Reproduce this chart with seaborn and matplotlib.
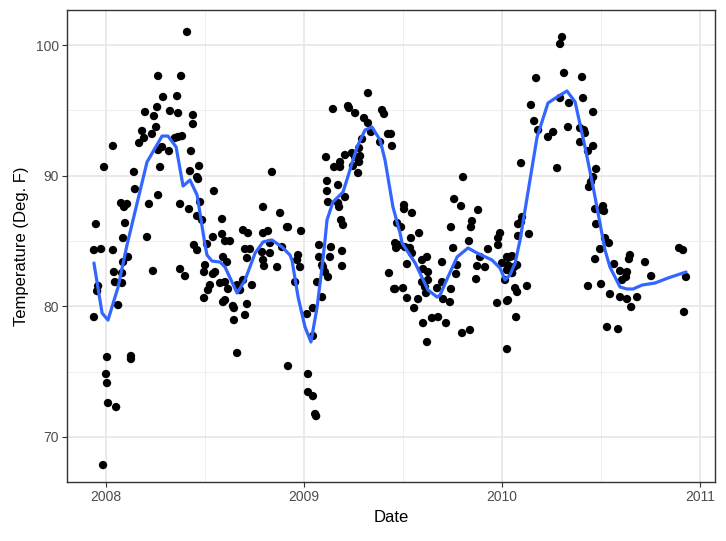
import matplotlib
matplotlib.use("Agg")
import matplotlib.pyplot as plt
from matplotlib.ticker import FixedLocator
import seaborn as sns
import pandas as pd

# observed daily temperatures (decimal year, deg F)
obs_date = [
    2008.263, 2008.288, 2008.359, 2008.197, 2008.258, 2008.242, 2008.323, 2008.364, 2008.253, 2008.182,
    2008.232, 2008.192, 2008.167, 2008.348, 2008.364, 2008.035, 2008.283, 2008.263, 2008.318, 2007.990,
    2008.273, 2008.141, 2008.146, 2008.263, 2008.076, 2008.106, 2008.091, 2008.217, 2008.374, 2008.096,
    2007.949, 2008.207, 2008.086, 2007.939, 2007.975, 2008.035, 2008.111, 2008.086, 2008.237, 2008.374,
    2008.040, 2008.081, 2008.045, 2008.081, 2007.960, 2007.955, 2008.061, 2007.939, 2008.005, 2008.126,
    2008.126, 2008.000, 2008.005, 2008.010, 2008.051, 2007.985,
    2008.409, 2008.379, 2008.439, 2008.439, 2008.384, 2008.429, 2008.470, 2008.424, 2008.460, 2008.465,
    2008.838, 2008.545, 2008.419, 2008.475, 2008.460, 2008.485, 2008.793, 2008.879, 2008.914, 2008.586,
    2008.586, 2008.540, 2008.601, 2008.626, 2008.692, 2008.717, 2008.793, 2008.818, 2008.444, 2008.510,
    2008.702, 2008.727, 2008.828, 2008.889, 2008.460, 2008.788, 2008.828, 2008.399, 2008.500, 2008.495,
    2008.591, 2008.611, 2008.712, 2008.793, 2008.798, 2008.864, 2008.551, 2008.540, 2008.525, 2008.515,
    2008.576, 2008.601, 2008.616, 2008.662, 2008.677, 2008.692, 2008.737, 2008.495, 2008.591, 2008.601,
    2008.641, 2008.646, 2008.712, 2008.702, 2008.646, 2008.662, 2008.919,
    2009.323, 2009.146, 2009.222, 2009.227, 2009.258, 2009.394, 2009.404, 2009.303, 2009.323, 2009.338,
    2009.424, 2009.439, 2009.293, 2009.278, 2009.384, 2009.444, 2009.207, 2009.242, 2009.111, 2009.182,
    2009.258, 2009.283, 2009.278, 2009.152, 2009.182, 2009.247, 2009.273, 2009.116, 2009.172, 2009.116,
    2009.207, 2009.121, 2009.172, 2009.177, 2009.187, 2009.197, 2008.919, 2008.985, 2009.470, 2009.076,
    2009.136, 2009.192, 2009.460, 2009.465, 2008.970, 2008.965, 2008.980, 2009.076, 2009.131, 2009.091,
    2009.096, 2009.106, 2009.192, 2009.121, 2008.955, 2009.066, 2009.091, 2009.045, 2009.015, 2009.045,
    2009.020, 2009.020, 2009.045, 2009.056, 2009.061, 2009.429, 2009.455,
    2009.803, 2009.758, 2009.793, 2009.879, 2009.505, 2009.505, 2009.545, 2009.848, 2009.843, 2009.742,
    2009.490, 2009.581, 2009.540, 2009.990, 2009.980, 2009.980, 2009.833, 2009.753, 2009.929, 2009.485,
    2009.510, 2009.535, 2009.545, 2009.596, 2009.621, 2009.697, 2009.889, 2009.520, 2009.601, 2009.626,
    2009.773, 2009.874, 2009.914, 2010.000, 2010.025, 2010.030, 2009.768, 2009.596, 2009.626, 2009.611,
    2009.869, 2009.697, 2009.672, 2009.742, 2009.460, 2009.500, 2009.520, 2009.576, 2009.616, 2009.702,
    2009.737, 2009.975, 2010.025, 2009.556, 2009.601, 2009.646, 2009.677, 2009.717, 2009.621, 2009.798,
    2009.838, 2010.025,
    2010.303, 2010.293, 2010.172, 2010.313, 2010.404, 2010.146, 2010.293, 2010.338, 2010.409, 2010.460,
    2010.162, 2010.182, 2010.232, 2010.258, 2010.333, 2010.394, 2010.414, 2010.419, 2010.394, 2010.460,
    2010.434, 2010.096, 2010.278, 2010.475, 2010.460, 2010.449, 2010.439, 2010.510, 2010.515, 2010.505,
    2010.470, 2010.475, 2010.101, 2010.081, 2010.096, 2010.136, 2010.081, 2010.520, 2010.540, 2010.495,
    2010.040, 2010.051, 2010.025, 2010.040, 2010.061, 2010.076, 2010.051, 2010.015, 2010.066, 2010.076,
    2010.126, 2010.030, 2010.071, 2010.470, 2010.566, 2010.596, 2010.434, 2010.500, 2010.545, 2010.596,
    2010.530, 2010.586, 2010.646, 2010.641, 2010.722, 2010.894, 2010.914, 2010.631, 2010.626, 2010.606,
    2010.753, 2010.929, 2010.631, 2010.652, 2010.682, 2010.919,
]
obs_temp = [
    97.63, 96.02, 96.09, 94.87, 95.25, 94.56, 94.95, 94.79, 93.72, 93.42,
    93.19, 92.88, 92.50, 92.88, 92.96, 92.27, 92.19, 91.96, 91.88, 90.66,
    90.66, 90.28, 88.97, 88.51, 87.90, 87.83, 87.60, 87.83, 87.83, 86.37,
    86.29, 85.30, 85.22, 84.30, 84.38, 84.30, 83.77, 83.38, 82.70, 82.85,
    82.62, 82.54, 81.85, 81.78, 81.55, 81.16, 80.09, 79.17, 76.11, 76.19,
    75.96, 74.81, 74.12, 72.59, 72.28, 67.84,
    101.00, 97.63, 94.64, 93.95, 93.03, 91.88, 90.74, 90.35, 89.89, 89.74,
    90.28, 88.82, 87.44, 87.98, 86.91, 86.60, 87.60, 87.14, 86.06, 86.68,
    85.53, 85.30, 84.99, 84.99, 85.83, 85.60, 85.60, 85.76, 84.69, 84.76,
    84.38, 84.38, 84.84, 84.53, 84.30, 84.15, 84.07, 82.31, 83.15, 82.62,
    83.77, 83.38, 83.69, 83.54, 83.08, 83.00, 82.62, 82.47, 81.62, 81.24,
    81.78, 81.85, 81.32, 81.62, 81.24, 82.01, 81.62, 80.63, 80.32, 80.47,
    80.02, 79.86, 80.17, 79.33, 78.94, 76.42, 75.42,
    96.32, 95.10, 95.33, 95.18, 94.79, 95.02, 94.72, 94.41, 94.03, 93.34,
    93.19, 93.19, 92.80, 92.11, 92.57, 92.27, 91.58, 91.73, 91.42, 91.04,
    91.42, 91.50, 91.04, 90.66, 90.66, 90.74, 90.20, 89.59, 89.28, 88.82,
    88.36, 87.98, 87.90, 87.60, 86.60, 86.22, 86.06, 85.76, 86.37, 84.69,
    84.53, 84.23, 84.84, 84.46, 83.92, 83.54, 83.00, 83.77, 83.77, 83.15,
    83.00, 82.62, 83.08, 82.24, 81.85, 81.85, 80.70, 79.86, 79.40, 77.72,
    74.81, 73.43, 73.12, 71.75, 71.59, 82.54, 81.32,
    89.89, 88.21, 87.67, 87.37, 87.75, 87.44, 87.14, 86.52, 86.06, 86.06,
    86.06, 85.60, 85.22, 85.60, 85.22, 84.69, 84.99, 84.46, 84.38, 84.69,
    84.53, 84.46, 84.07, 83.54, 83.77, 83.38, 83.77, 83.23, 82.85, 82.62,
    83.15, 83.08, 83.00, 83.31, 83.77, 83.15, 82.47, 81.85, 82.01, 81.47,
    82.08, 81.85, 81.39, 81.32, 81.32, 81.39, 80.63, 80.55, 81.01, 80.55,
    80.32, 80.25, 80.40, 79.86, 78.71, 79.10, 79.17, 78.71, 77.26, 77.95,
    78.18, 76.72,
    100.61, 100.08, 97.47, 97.86, 97.55, 95.41, 95.94, 95.56, 95.94, 94.87,
    94.18, 93.49, 92.96, 93.34, 93.72, 93.64, 93.49, 93.26, 92.57, 92.27,
    91.88, 90.96, 90.58, 90.51, 89.89, 89.51, 89.13, 87.67, 87.29, 87.37,
    87.44, 86.29, 86.83, 86.29, 86.45, 85.53, 85.38, 85.22, 84.84, 84.38,
    83.77, 83.84, 82.77, 83.00, 83.00, 83.15, 82.54, 82.01, 81.39, 81.09,
    81.55, 80.47, 79.17, 83.61, 83.23, 82.70, 81.55, 81.70, 80.93, 80.70,
    78.41, 78.25, 83.92, 83.61, 83.38, 84.46, 84.30, 82.62, 82.24, 82.01,
    82.31, 82.24, 80.55, 79.94, 80.70, 79.56,
]

# smoothed trend (loess)
smooth_date = [
    2007.939, 2007.980, 2008.010, 2008.061, 2008.106, 2008.207, 2008.283, 2008.313, 2008.354, 2008.389,
    2008.424, 2008.460, 2008.500, 2008.510, 2008.535, 2008.576, 2008.601, 2008.662, 2008.702, 2008.753,
    2008.793, 2008.838, 2008.889, 2008.929, 2008.939, 2008.970, 2009.005, 2009.035, 2009.066, 2009.091,
    2009.106, 2009.116, 2009.146, 2009.197, 2009.268, 2009.308, 2009.343, 2009.384, 2009.409, 2009.449,
    2009.485, 2009.495, 2009.561, 2009.626, 2009.672, 2009.687, 2009.727, 2009.773, 2009.828, 2009.874,
    2009.949, 2009.990, 2010.015, 2010.040, 2010.066, 2010.091, 2010.177, 2010.232, 2010.278, 2010.328,
    2010.369, 2010.419, 2010.460, 2010.520, 2010.545, 2010.596, 2010.631, 2010.662, 2010.707, 2010.773,
    2010.838, 2010.929,
]
smooth_temp = [
    83.31, 79.48, 78.94, 81.47, 84.69, 91.04, 93.03, 93.03, 92.19, 89.20,
    89.66, 88.51, 84.69, 83.92, 83.46, 83.38, 83.00, 81.01, 82.01, 84.07,
    84.92, 85.07, 84.53, 83.92, 83.54, 80.70, 78.41, 77.26, 79.94, 83.00,
    85.07, 86.60, 87.98, 88.74, 92.19, 93.49, 93.72, 92.73, 91.19, 87.60,
    85.60, 84.84, 83.31, 81.24, 80.70, 80.86, 82.24, 83.77, 84.46, 84.07,
    83.54, 82.92, 82.01, 82.39, 83.31, 85.07, 92.96, 95.56, 96.02, 96.48,
    95.64, 92.19, 89.13, 84.30, 83.00, 81.47, 81.32, 81.32, 81.62, 81.78,
    82.16, 82.62,
]

x_ticks = [2008, 2009, 2010, 2011]
y_ticks = [70, 80, 90, 100]

obs = pd.DataFrame({"date": obs_date, "temp": obs_temp})
smooth = pd.DataFrame({"date": smooth_date, "temp": smooth_temp})

sns.set_theme(style="white")
plt.rcParams["font.family"] = ["Liberation Sans", "DejaVu Sans"]

fig = plt.figure(figsize=(7.26, 5.41), dpi=100)
ax = fig.add_axes([0.0923, 0.109, 0.8927, 0.8725])

sns.scatterplot(data=obs, x="date", y="temp", ax=ax, color="black", s=36,
                edgecolor="none", linewidth=0, zorder=3)
sns.lineplot(data=smooth, x="date", y="temp", ax=ax, color="#3366FF",
             linewidth=2.3, zorder=4, sort=False)

ax.set_xlim(2007.803, 2011.076)
ax.set_ylim(66.54, 102.68)

ax.xaxis.set_major_locator(FixedLocator(x_ticks))
ax.yaxis.set_major_locator(FixedLocator(y_ticks))
ax.xaxis.set_minor_locator(FixedLocator([2008.5, 2009.5, 2010.5]))
ax.yaxis.set_minor_locator(FixedLocator([75, 85, 95]))
ax.set_xticklabels([str(t) for t in x_ticks])
ax.set_yticklabels([str(t) for t in y_ticks])

ax.grid(True, which="major", color="#E8E8E8", linewidth=1.3, zorder=0)
ax.grid(True, which="minor", color="#EEEEEE", linewidth=0.7, zorder=0)
ax.set_axisbelow(True)

for sp in ax.spines.values():
    sp.set_color("#333333")
    sp.set_linewidth(1.0)

ax.tick_params(axis="both", which="major", length=3.5, width=0.8, color="#333333",
               labelcolor="#4D4D4D", labelsize=10, pad=2.5, bottom=True, left=True)
ax.tick_params(axis="both", which="minor", length=0)

ax.set_xlabel("Date", fontsize=12, color="black", labelpad=4)
ax.set_ylabel("Temperature (Deg. F)", fontsize=12, color="black", labelpad=5)

fig.savefig("out.png", dpi=100, facecolor="white")
